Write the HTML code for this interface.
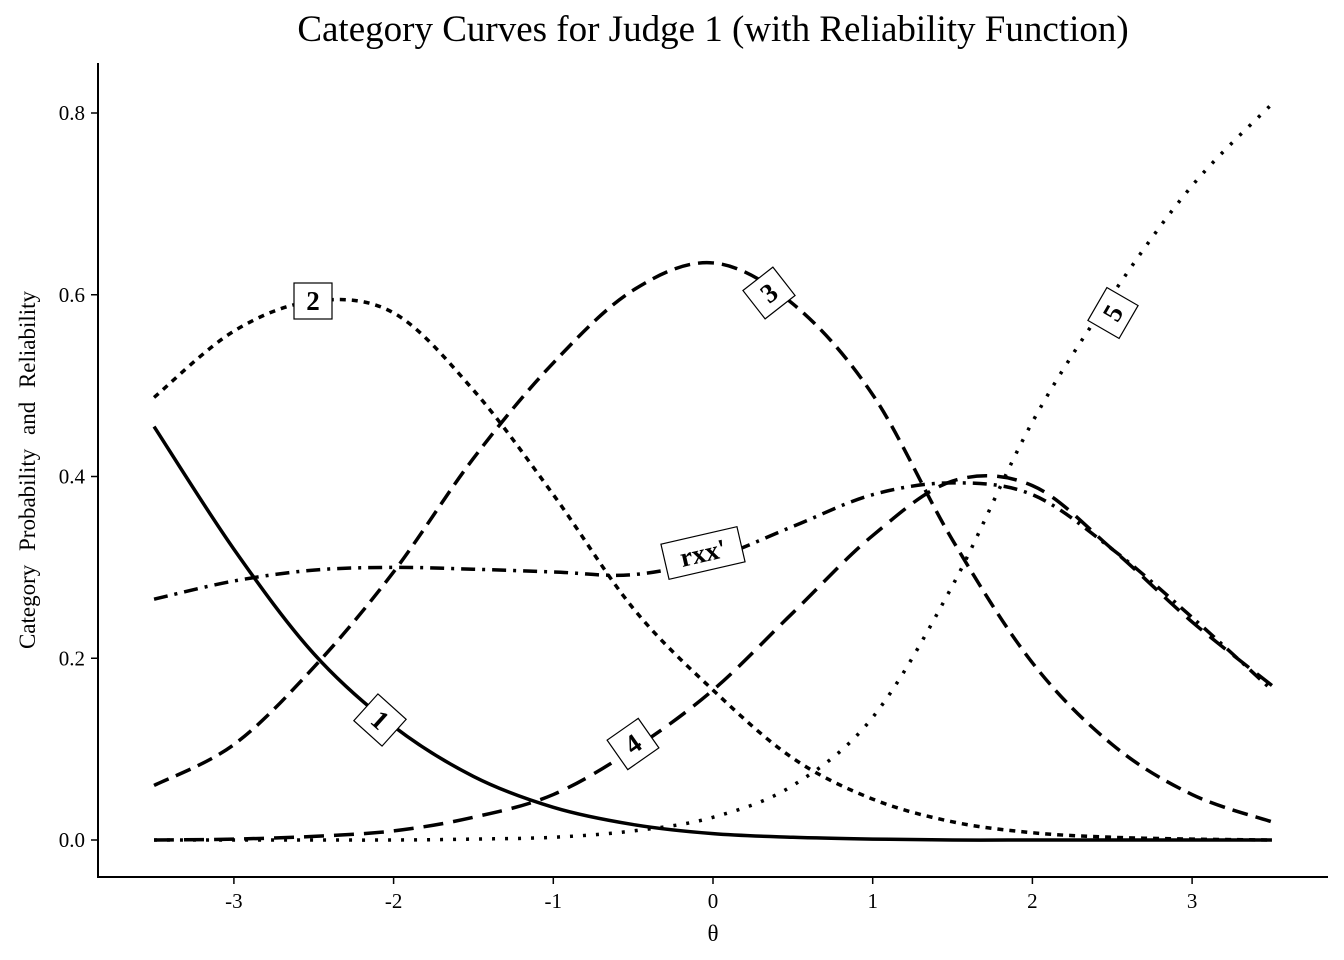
<!DOCTYPE html>
<html><head><meta charset="utf-8"><style>
body{margin:0;background:#fff}
svg{display:block;font-family:"Liberation Serif",serif}
</style></head><body>
<svg id="chart" width="1344" height="960">
<text x="713" y="41" text-anchor="middle" font-size="37">Category Curves for Judge 1 (with Reliability Function)</text>
<text x="713" y="941" text-anchor="middle" font-size="23">θ</text>
<text transform="translate(35,470) rotate(-90)" text-anchor="middle" font-size="23" word-spacing="8">Category Probability and Reliability</text>
<line x1="98" y1="63" x2="98" y2="878" stroke="#000" stroke-width="2"/>
<line x1="97" y1="877" x2="1328" y2="877" stroke="#000" stroke-width="2"/>
<g id="ticks"></g><g id="curves"></g><g id="labels"></g>
</svg>
<script>
const thetas=[-3.5,-3,-2.5,-2,-1.5,-1,-0.5,0,0.5,1,1.5,2,2.5,3,3.5];
const cat1=[0.455,0.32,0.205,0.125,0.07,0.036,0.017,0.007,0.003,0.001,0,0,0,0,0];
const cat2=[0.487,0.56,0.593,0.58,0.495,0.38,0.255,0.165,0.09,0.045,0.02,0.008,0.003,0.001,0];
const cat3=[0.06,0.105,0.19,0.295,0.42,0.525,0.605,0.635,0.59,0.49,0.33,0.195,0.105,0.05,0.02];
const cat4=[0,0.001,0.004,0.01,0.025,0.05,0.1,0.165,0.25,0.335,0.395,0.39,0.32,0.24,0.17];
const cat5=[0,0,0,0,0.001,0.003,0.01,0.025,0.06,0.135,0.28,0.46,0.6,0.72,0.81];
const rxx=[0.265,0.285,0.297,0.30,0.298,0.295,0.292,0.31,0.345,0.38,0.393,0.38,0.32,0.245,0.165];
const xTicks=[-3,-2,-1,0,1,2,3];
const yTicks=[0,0.2,0.4,0.6,0.8];
const yTickLabels=["0.0","0.2","0.4","0.6","0.8"];
const NS="http://www.w3.org/2000/svg";
const X=t=>713+t*159.7;
const Y=v=>840-v*908.75;
const tg=document.getElementById('ticks');
xTicks.forEach(t=>{
  const l=document.createElementNS(NS,'line');
  l.setAttribute('x1',X(t));l.setAttribute('x2',X(t));l.setAttribute('y1',877);l.setAttribute('y2',884);l.setAttribute('stroke','#000');l.setAttribute('stroke-width','1.5');
  
  
  tg.appendChild(l);
  const tx=document.createElementNS(NS,'text');
  tx.setAttribute('x',X(t));tx.setAttribute('y',908);tx.setAttribute('text-anchor','middle');tx.setAttribute('font-size','21');
  tx.textContent=t;
  
  
  tg.appendChild(tx);
});
yTicks.forEach((v,i)=>{
  const l=document.createElementNS(NS,'line');
  l.setAttribute('x1',91);l.setAttribute('x2',98);l.setAttribute('y1',Y(v));l.setAttribute('y2',Y(v));l.setAttribute('stroke','#000');l.setAttribute('stroke-width','1.5');
  
  
  tg.appendChild(l);
  const tx=document.createElementNS(NS,'text');
  tx.setAttribute('x',85);tx.setAttribute('y',Y(v)+7);tx.setAttribute('text-anchor','end');tx.setAttribute('font-size','21');
  tx.textContent=yTickLabels[i];
  
  
  tg.appendChild(tx);
});
function pathFor(vals){
  const p=thetas.map((t,i)=>[X(t),Y(vals[i])]);
  let d='M'+p[0][0]+','+p[0][1];
  for(let i=0;i<p.length-1;i++){
    const p0=p[Math.max(0,i-1)],p1=p[i],p2=p[i+1],p3=p[Math.min(p.length-1,i+2)];
    const c1=[p1[0]+(p2[0]-p0[0])/6,p1[1]+(p2[1]-p0[1])/6];
    const c2=[p2[0]-(p3[0]-p1[0])/6,p2[1]-(p3[1]-p1[1])/6];
    d+=` C${c1[0]},${c1[1]} ${c2[0]},${c2[1]} ${p2[0]},${p2[1]}`;
  }
  return d;
}
const cg=document.getElementById('curves');
[[cat1,'','curve-category-1'],[cat2,'6,6','curve-category-2'],[cat3,'16,8','curve-category-3'],[cat4,'20,10','curve-category-4'],[cat5,'3,10','curve-category-5'],[rxx,'14,7,3,7','curve-reliability']].forEach(s=>{
  const p=document.createElementNS(NS,'path');
  p.setAttribute('d',pathFor(s[0]));p.setAttribute('fill','none');p.setAttribute('stroke','#000');p.setAttribute('stroke-width','3.5');
  if(s[1])p.setAttribute('stroke-dasharray',s[1]);
  
  
  cg.appendChild(p);
});
const lg=document.getElementById('labels');
[['2',313,301,0,'label-category-2'],['3',769,293,-38,'label-category-3'],['5',1113,313,-60,'label-category-5'],["rxx'",703,553,-13,'label-reliability'],['1',380,720,42,'label-category-1'],['4',633,744,-35,'label-category-4']].forEach(l=>{
  const g=document.createElementNS(NS,'g');
  g.setAttribute('transform',`translate(${l[1]},${l[2]}) rotate(${l[3]})`);
  
  
  const w=l[0].length>1?78:38;
  const r=document.createElementNS(NS,'rect');
  r.setAttribute('x',-w/2);r.setAttribute('y',-18);r.setAttribute('width',w);r.setAttribute('height',36);r.setAttribute('fill','#fff');r.setAttribute('stroke','#000');r.setAttribute('stroke-width','1.2');
  g.appendChild(r);
  const t=document.createElementNS(NS,'text');
  t.setAttribute('x',0);t.setAttribute('y',9);t.setAttribute('text-anchor','middle');t.setAttribute('font-size','27');t.setAttribute('font-weight','bold');
  t.textContent=l[0];
  g.appendChild(t);
  lg.appendChild(g);
});
</script>
</body></html>
